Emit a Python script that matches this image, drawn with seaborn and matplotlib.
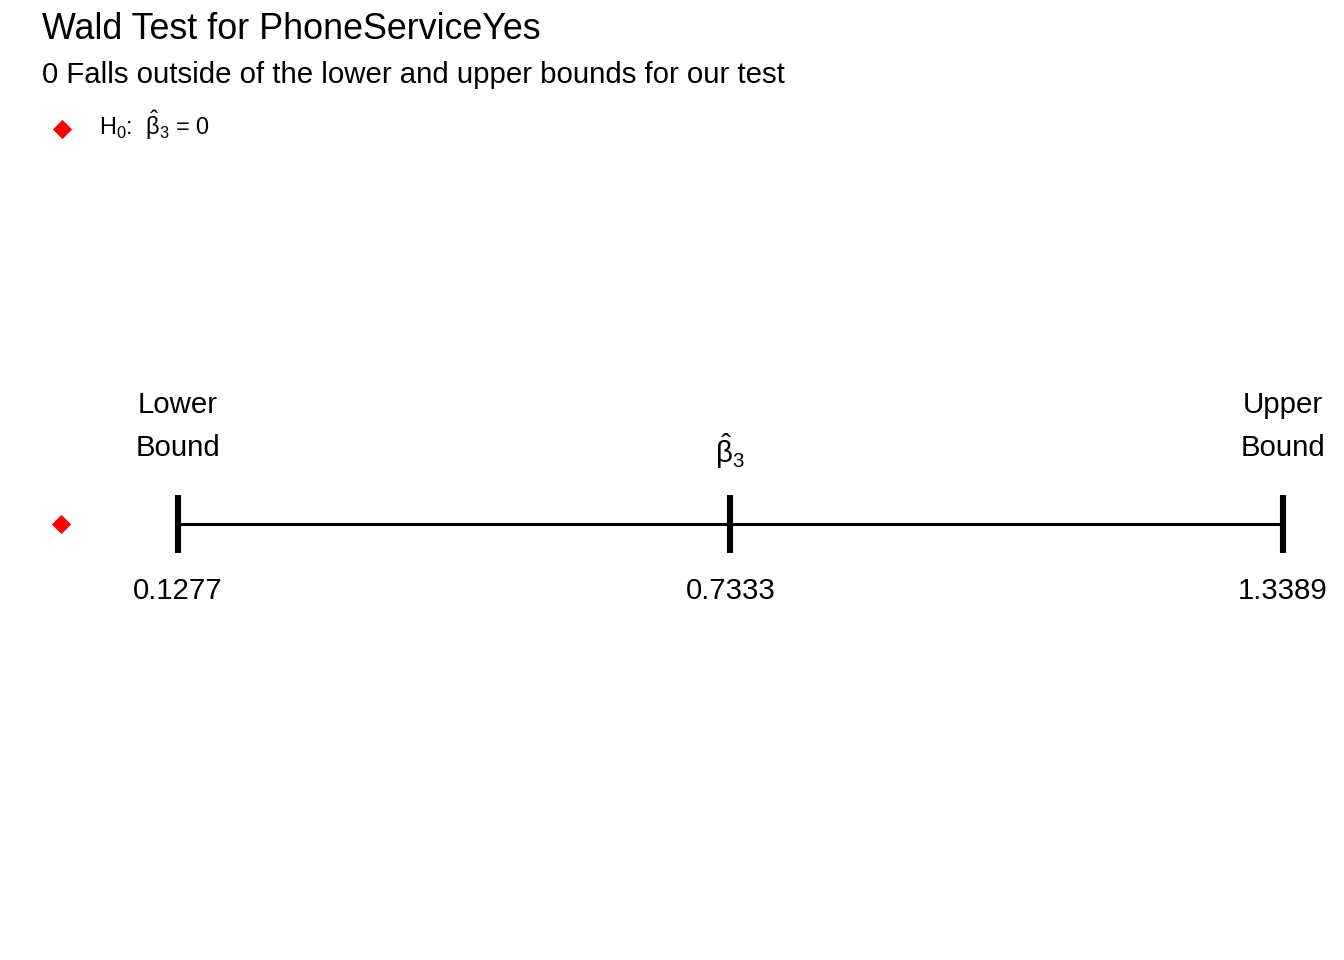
import numpy as np
import pandas as pd
import matplotlib
matplotlib.use('Agg')
import matplotlib.pyplot as plt
import seaborn as sns

sns.set_theme(style='white')
plt.rcParams['font.family'] = ['Liberation Sans', 'DejaVu Sans']
plt.rcParams['text.color'] = 'black'
plt.rcParams['mathtext.fontset'] = 'custom'
plt.rcParams['mathtext.rm'] = 'Liberation Sans'
plt.rcParams['mathtext.it'] = 'Liberation Sans:italic'

# Wald interval for the PhoneServiceYes coefficient
bound_names = ['lower', 'estimate', 'upper']
bound_values = [0.1277, 0.7333, 1.3389]
top_labels = ['Lower\nBound', r'$\hat{\mathrm{\beta}}_3$', 'Upper\nBound']
value_labels = ['0.1277', '0.7333', '1.3389']

# null hypothesis value
null_value = [0]
null_label = r'H$_0$:  $\hat{\mathrm{\beta}}_3$ = 0'

title = 'Wald Test for PhoneServiceYes'
subtitle = '0 Falls outside of the lower and upper bounds for our test'

df = pd.DataFrame({'name': bound_names, 'value': bound_values, 'y': 0})
h0 = pd.DataFrame({'value': null_value, 'y': 0})

fig = plt.figure(figsize=(7, 5), dpi=192)
ax = fig.add_axes([0, 0, 1, 1])

# interval line
sns.lineplot(data=df, x='value', y='y', color='black', linewidth=1.15, ax=ax)

# bound ticks
ax.plot(df['value'], df['y'], linestyle='none', marker='|', color='black',
        markersize=21.5, markeredgewidth=2.3)

# null value
sns.scatterplot(data=h0, x='value', y='y', marker='D', color='red', s=26,
                linewidth=0, label=null_label, ax=ax)

for v, top, lab in zip(bound_values, top_labels, value_labels):
    if '\n' in top:
        ax.annotate(top, (v, 0), xytext=(0, 23.4), textcoords='offset points',
                    ha='center', va='bottom', fontsize=11, linespacing=1.66)
    else:
        ax.annotate(top, (v, 0), xytext=(0, 20), textcoords='offset points',
                    ha='center', va='bottom', fontsize=11)
    ax.annotate(lab, (v, 0), xytext=(0, -28), textcoords='offset points',
                ha='center', va='baseline', fontsize=11)

lo = min(null_value + bound_values)
hi = max(null_value + bound_values)
pad = 0.05 * (hi - lo)
ax.set_xlim(lo - pad, hi + pad)
ax.set_ylim(-0.4542, 0.5458)
ax.axis('off')

ax.legend(loc='center left', bbox_to_anchor=(50 / 1344, 1 - 125 / 960),
          bbox_transform=fig.transFigure, frameon=False, fontsize=8.8,
          handlelength=1.0, handletextpad=1.1, borderpad=0, borderaxespad=0)

fig.text(42 / 1344, 1 - 39 / 960, title, fontsize=13.45, va='baseline', ha='left')
fig.text(42 / 1344, 1 - 83 / 960, subtitle, fontsize=11, va='baseline', ha='left')

fig.savefig('out.png', dpi=192)
